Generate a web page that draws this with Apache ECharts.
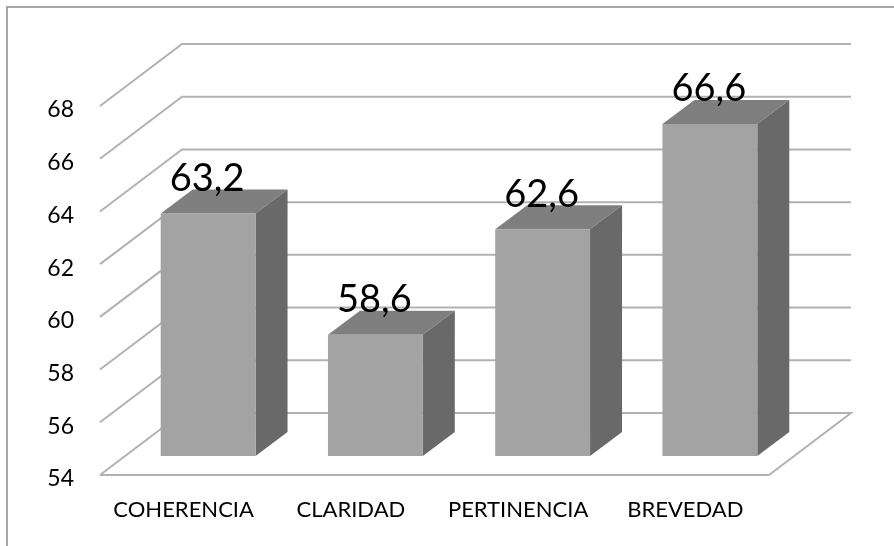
<!DOCTYPE html>
<html>
<head>
<meta charset="utf-8">
<style>html,body{margin:0;padding:0;background:#fff}#c{width:894px;height:546px}</style>
<script src="https://cdn.jsdelivr.net/npm/echarts@6/dist/echarts.min.js"></script>
</head>
<body>
<div id="c"></div>
<script>
const categories = ['COHERENCIA', 'CLARIDAD', 'PERTINENCIA', 'BREVEDAD'];
const values = [63.2, 58.6, 62.6, 66.6];
const yTicks = [54, 56, 58, 60, 62, 64, 66, 68];

const FONT = 'Lato, "Open Sans", sans-serif';
const WALL = [82, -62];      // depth of the whole box
const BAR_IN = [24.5, -19];  // bar front face, inset from the front plane
const BAR_DEPTH = [32, -24]; // depth of each bar
const BAR_RATIO = 0.567;
const GRID_COLOR = '#b2b2b2';

const chart = echarts.init(document.getElementById('c'), null, { renderer: 'canvas' });

function gridItem(params, api) {
  const tick = api.value(0);
  const p = api.coord([0, tick]);
  const rect = params.coordSys;
  const x0 = rect.x, x1 = rect.x + rect.width, y = p[1];
  const style = { stroke: GRID_COLOR, lineWidth: 2, fill: null };
  const pts = [[x0, y], [x0 + WALL[0], y + WALL[1]], [x1 + WALL[0], y + WALL[1]]];
  if (tick === yTicks[0]) {
    pts.push([x1, y], [x0, y]);
  }
  return { type: 'polyline', shape: { points: pts }, style: style, silent: true };
}

function barItem(params, api) {
  const idx = api.value(0);
  const top = api.coord([idx, api.value(1)]);
  const base = api.coord([idx, yTicks[0]]);
  const w = api.size([1, 0])[0] * BAR_RATIO;
  const xl = top[0] - w / 2 + BAR_IN[0], xr = xl + w;
  const yt = top[1] + BAR_IN[1], yb = base[1] + BAR_IN[1];
  const dx = BAR_DEPTH[0], dy = BAR_DEPTH[1];
  return {
    type: 'group',
    children: [
      { type: 'polygon', shape: { points: [[xl, yt], [xr, yt], [xr + dx, yt + dy], [xl + dx, yt + dy]] }, style: { fill: '#7f7f7f' } },
      { type: 'polygon', shape: { points: [[xr, yt], [xr + dx, yt + dy], [xr + dx, yb + dy], [xr, yb]] }, style: { fill: '#696969' } },
      { type: 'rect', shape: { x: xl, y: yt, width: w, height: yb - yt }, style: { fill: '#a3a3a3' } }
    ]
  };
}

function labelItem(params, api) {
  const idx = api.value(0);
  const v = api.value(1);
  const top = api.coord([idx, v]);
  return {
    type: 'text',
    z2: 100,
    style: {
      x: top[0] + BAR_IN[0] - 1,
      y: top[1] + BAR_IN[1] - 16,
      text: String(v).replace('.', ','),
      font: '38px ' + FONT,
      fill: '#000',
      align: 'center',
      verticalAlign: 'bottom'
    }
  };
}

chart.setOption({
  animation: false,
  backgroundColor: '#fff',
  grid: { left: 100, right: 125, top: 106, bottom: 71, containLabel: false },
  xAxis: {
    type: 'category',
    data: categories,
    axisLine: { show: false },
    axisTick: { show: false },
    splitLine: { show: false },
    axisLabel: { color: '#000', fontFamily: FONT, fontSize: 22, margin: 24, interval: 0 }
  },
  yAxis: {
    type: 'value',
    min: 54,
    max: 68,
    interval: 2,
    axisLine: { show: false },
    axisTick: { show: false },
    splitLine: { show: false },
    axisLabel: { color: '#000', fontFamily: FONT, fontSize: 23, margin: 26, verticalAlign: 'top', lineHeight: 8 }
  },
  graphic: [
    { type: 'polyline', shape: { points: [[7, 546], [7, 7], [894, 7]] }, style: { stroke: '#a6a6a6', lineWidth: 2, fill: null }, silent: true }
  ],
  series: [
    { type: 'custom', name: 'grid', coordinateSystem: 'cartesian2d', encode: { y: 0 }, clip: false, z: 1, silent: true, data: yTicks.map(t => [t]), renderItem: gridItem },
    { type: 'custom', name: 'bars', coordinateSystem: 'cartesian2d', encode: { x: 0, y: 1 }, clip: false, z: 2, silent: true, data: values.map((v, i) => [i, v]), renderItem: barItem },
    { type: 'custom', name: 'labels', coordinateSystem: 'cartesian2d', encode: { x: 0, y: 1 }, clip: false, z: 3, silent: true, data: values.map((v, i) => [i, v]), renderItem: labelItem }
  ]
});
</script>
</body>
</html>
